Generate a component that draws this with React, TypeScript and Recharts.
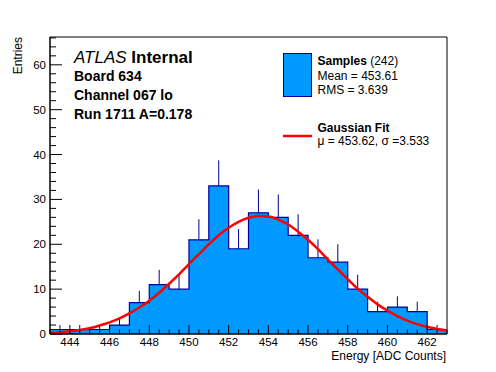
import { ComposedChart, Area, Line, Scatter, ErrorBar, XAxis, YAxis, ReferenceArea } from 'recharts';

// histogram: 1 ADC-count bins starting at 443
const binStart = 443;
const counts = [1, 1, 1, 2, 7, 11, 10, 21, 33, 19, 27, 26, 22, 17, 16, 10, 5, 6, 5, 1];
const countErrors = [1, 1, 1, 1.4, 2.6, 3.3, 3.2, 4.6, 5.7, 4.4, 5.2, 5.1, 4.7, 4.1, 4, 3.2, 2.2, 2.4, 2.2, 1];

// gaussian fit curve, read every half count from 443 to 463
const fitValues = [
    0.3, 0.4, 0.6, 0.9, 1.3, 1.9, 2.6, 3.5, 4.6, 5.9, 7.4, 9.2, 11.2, 13.3, 15.6, 17.8, 20.0, 22.0, 23.7, 25.0,
    25.9, 26.3, 26.2, 25.5, 24.4, 22.8, 21.0, 18.9, 16.6, 14.4, 12.2, 10.1, 8.3, 6.6, 5.2, 4.0, 3.0, 2.2, 1.6, 1.1, 0.8,
];

const xLabels = [444, 446, 448, 450, 452, 454, 456, 458, 460, 462];
const yLabels = [0, 10, 20, 30, 40, 50, 60];

const X_MIN = 443;
const X_MAX = 463;
const Y_MAX = 66.2;

const xTicks = Array.from({ length: (X_MAX - X_MIN) * 2 + 1 }, (_, i) => X_MIN + i * 0.5);
const yTicks = Array.from({ length: 34 }, (_, i) => i * 2);

const rows = fitValues.map((fit, i) => {
    const x = X_MIN + i * 0.5;
    const bin = Math.min(Math.floor(x - binStart), counts.length - 1);
    return { x, hist: counts[bin], fit };
});

const errorPoints = counts.map((c, i) => ({
    x: binStart + i + 0.5,
    y: c,
    err: [0, countErrors[i]],
}));

const FONT = '"Liberation Sans", Arial, Helvetica, sans-serif';
const FILL = '#0099ff';
const EDGE = '#000099';

const XTick = ({ x, y, payload }: any) => {
    const major = xLabels.includes(payload.value);
    return (
        <g>
            <line x1={x} x2={x} y1={y} y2={y - (major ? 9 : 4.5)} stroke="#000" strokeWidth={1} />
            {major && (
                <text x={x} y={y + 12} textAnchor="middle" fontSize={11.5} fontFamily={FONT} fill="#000">
                    {payload.value}
                </text>
            )}
        </g>
    );
};

const YTick = ({ x, y, payload }: any) => {
    const major = yLabels.includes(payload.value);
    return (
        <g>
            <line x1={x} x2={x + (major ? 12 : 6)} y1={y} y2={y} stroke="#000" strokeWidth={1} />
            {major && (
                <text x={x - 4} y={y + 4} textAnchor="end" fontSize={11.5} fontFamily={FONT} fill="#000">
                    {payload.value}
                </text>
            )}
        </g>
    );
};

export default function App() {
    return (
        <div style={{ position: 'absolute', left: 0, top: 0, width: 496, height: 372, background: '#fff', fontFamily: FONT }}>
            <ComposedChart
                width={496}
                height={372}
                data={rows}
                margin={{ top: 37, right: 49, bottom: 37, left: 49 }}
            >
                <XAxis
                    dataKey="x"
                    type="number"
                    domain={[X_MIN, X_MAX]}
                    ticks={xTicks}
                    interval={0}
                    height={1}
                    tickSize={0}
                    tickMargin={0}
                    tickLine={false}
                    tick={<XTick />}
                    axisLine={{ stroke: '#000' }}
                    allowDataOverflow
                />
                <YAxis
                    type="number"
                    domain={[0, Y_MAX]}
                    ticks={yTicks}
                    interval={0}
                    width={1}
                    tickSize={0}
                    tickMargin={0}
                    tickLine={false}
                    tick={<YTick />}
                    axisLine={{ stroke: '#000' }}
                    allowDataOverflow
                />
                <Area
                    dataKey="hist"
                    type="stepAfter"
                    fill={FILL}
                    fillOpacity={1}
                    stroke={EDGE}
                    strokeWidth={1.2}
                    isAnimationActive={false}
                />
                <Scatter data={errorPoints} dataKey="y" shape={() => <g />} isAnimationActive={false}>
                    <ErrorBar dataKey="err" direction="y" width={0} stroke={EDGE} strokeWidth={1} />
                </Scatter>
                <Line
                    dataKey="fit"
                    type="monotone"
                    stroke="#ff0000"
                    strokeWidth={2.5}
                    dot={false}
                    isAnimationActive={false}
                />
                <ReferenceArea x1={X_MIN} x2={X_MAX} y1={0} y2={Y_MAX} fill="none" stroke="#000" strokeWidth={1} />
            </ComposedChart>

            <svg width={496} height={372} style={{ position: 'absolute', left: 0, top: 0, pointerEvents: 'none' }} fontFamily={FONT}>
                <text x={22} y={37} transform="rotate(-90 22 37)" textAnchor="end" fontSize={12}>Entries</text>
                <text x={446} y={359.5} textAnchor="end" fontSize={12}>Energy [ADC Counts]</text>

                <text x={74} y={63} fontSize={17}>
                    <tspan fontStyle="italic">ATLAS</tspan>
                    <tspan fontWeight="bold"> Internal</tspan>
                </text>
                <text x={74} y={81} fontSize={14} fontWeight="bold">Board 634</text>
                <text x={74} y={100} fontSize={14} fontWeight="bold">Channel 067 lo</text>
                <text x={74} y={119} fontSize={14} fontWeight="bold">Run 1711 A=0.178</text>

                <rect x={283.5} y={53.5} width={28} height={43} fill={FILL} stroke={EDGE} strokeWidth={1} />
                <text x={317.5} y={65} fontSize={12}>
                    <tspan fontWeight="bold">Samples</tspan>
                    <tspan> (242)</tspan>
                </text>
                <text x={317.5} y={79.5} fontSize={12}>Mean = 453.61</text>
                <text x={317.5} y={93.5} fontSize={12}>RMS = 3.639</text>

                <line x1={283} x2={312} y1={136} y2={136} stroke="#ff0000" strokeWidth={2.5} />
                <text x={317.5} y={132} fontSize={12} fontWeight="bold">Gaussian Fit</text>
                <text x={317.5} y={144.5} fontSize={12}>μ = 453.62, σ =3.533</text>
            </svg>
        </div>
    );
}
